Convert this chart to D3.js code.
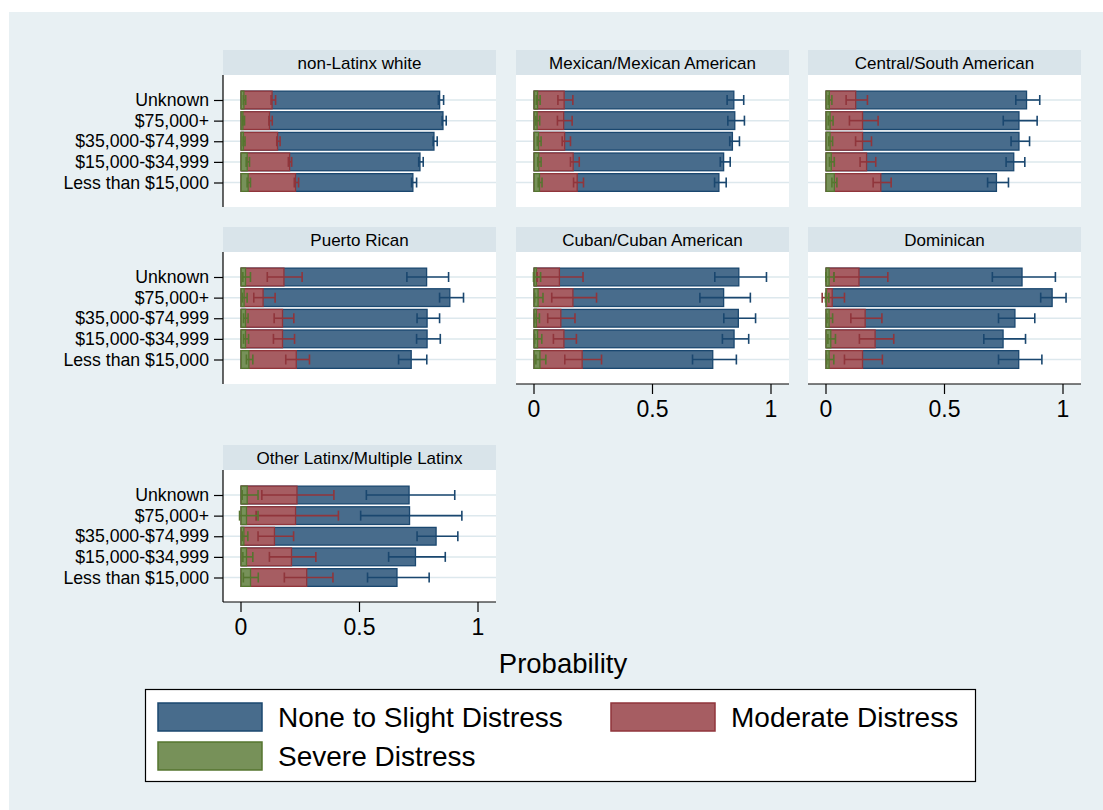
<!DOCTYPE html>
<html>
<head>
<meta charset="utf-8">
<script src="https://cdn.jsdelivr.net/npm/d3@7"></script>
<style>
  body { margin: 0; background: #fff; }
  text { font-family: "Liberation Sans", Arial, Helvetica, sans-serif; fill: #000; }
</style>
</head>
<body>
<div id="chart"></div>
<script>

// income categories, top to bottom
var categories = ["Unknown", "$75,000+", "$35,000-$74,999", "$15,000-$34,999", "Less than $15,000"];

var groups = ["non-Latinx white", "Mexican/Mexican American", "Central/South American",
              "Puerto Rican", "Cuban/Cuban American", "Dominican", "Other Latinx/Multiple Latinx"];

var seriesNames = ["None to Slight Distress", "Moderate Distress", "Severe Distress"];

// none to slight distress (one row per group)
var noneVals = [
  [0.843, 0.857, 0.819, 0.760, 0.730],
  [0.848, 0.852, 0.842, 0.805, 0.785],
  [0.851, 0.819, 0.819, 0.797, 0.724],
  [0.788, 0.886, 0.790, 0.790, 0.723],
  [0.869, 0.805, 0.867, 0.849, 0.759],
  [0.832, 0.959, 0.802, 0.752, 0.818],
  [0.714, 0.716, 0.828, 0.741, 0.663]
];
var noneLo = [
  [0.835, 0.851, 0.813, 0.752, 0.722],
  [0.817, 0.820, 0.828, 0.788, 0.764],
  [0.803, 0.750, 0.783, 0.762, 0.684],
  [0.702, 0.840, 0.745, 0.743, 0.667],
  [0.765, 0.702, 0.803, 0.797, 0.671],
  [0.704, 0.908, 0.730, 0.668, 0.730],
  [0.531, 0.507, 0.745, 0.625, 0.536]
];
var noneHi = [
  [0.857, 0.868, 0.830, 0.771, 0.743],
  [0.887, 0.890, 0.869, 0.830, 0.813],
  [0.904, 0.893, 0.861, 0.841, 0.772],
  [0.878, 0.941, 0.840, 0.843, 0.786],
  [0.983, 0.915, 0.937, 0.908, 0.856],
  [0.970, 1.015, 0.883, 0.844, 0.913],
  [0.904, 0.934, 0.917, 0.864, 0.796]
];

// moderate distress
var modVals = [
  [0.136, 0.125, 0.159, 0.210, 0.235],
  [0.132, 0.130, 0.134, 0.170, 0.187],
  [0.130, 0.159, 0.159, 0.176, 0.236],
  [0.186, 0.098, 0.180, 0.180, 0.238],
  [0.112, 0.169, 0.118, 0.131, 0.208],
  [0.144, 0.031, 0.170, 0.212, 0.159],
  [0.241, 0.235, 0.146, 0.218, 0.282]
];
var modLo = [
  [0.129, 0.120, 0.153, 0.202, 0.227],
  [0.103, 0.101, 0.121, 0.156, 0.169],
  [0.087, 0.101, 0.127, 0.146, 0.201],
  [0.113, 0.056, 0.142, 0.139, 0.191],
  [0.015, 0.077, 0.060, 0.084, 0.132],
  [0.035, -0.014, 0.107, 0.143, 0.080],
  [0.090, 0.066, 0.074, 0.122, 0.185]
];
var modHi = [
  [0.148, 0.134, 0.167, 0.216, 0.245],
  [0.166, 0.163, 0.156, 0.193, 0.211],
  [0.177, 0.222, 0.194, 0.212, 0.277],
  [0.260, 0.146, 0.225, 0.228, 0.291],
  [0.209, 0.266, 0.175, 0.181, 0.287],
  [0.263, 0.080, 0.238, 0.288, 0.240],
  [0.394, 0.413, 0.224, 0.318, 0.390]
];

// severe distress
var sevVals = [
  [0.017, 0.013, 0.015, 0.031, 0.035],
  [0.020, 0.018, 0.024, 0.025, 0.028],
  [0.019, 0.022, 0.022, 0.027, 0.040],
  [0.024, 0.018, 0.024, 0.024, 0.038],
  [0.015, 0.022, 0.015, 0.020, 0.030],
  [0.018, 0.007, 0.018, 0.025, 0.018],
  [0.031, 0.028, 0.017, 0.028, 0.045]
];
var sevLo = [
  [0.012, 0.010, 0.011, 0.024, 0.028],
  [0.012, 0.010, 0.016, 0.018, 0.020],
  [0.012, 0.012, 0.014, 0.017, 0.027],
  [0.010, 0.008, 0.013, 0.013, 0.025],
  [0.000, 0.005, 0.005, 0.005, 0.010],
  [0.002, 0.000, 0.006, 0.010, 0.005],
  [0.007, -0.004, 0.007, 0.010, 0.012]
];
var sevHi = [
  [0.022, 0.017, 0.019, 0.038, 0.042],
  [0.028, 0.026, 0.032, 0.032, 0.036],
  [0.027, 0.032, 0.030, 0.037, 0.048],
  [0.042, 0.028, 0.032, 0.034, 0.052],
  [0.030, 0.040, 0.025, 0.035, 0.052],
  [0.036, 0.014, 0.030, 0.042, 0.035],
  [0.074, 0.074, 0.031, 0.052, 0.075]
];

var xTicks = [0, 0.5, 1];

var fills = ["#486c8c", "#a65d62", "#779159"],
    strokes = ["#1a476f", "#90353b", "#55752f"];

var W = 1103, H = 810;
var colLeft = [223, 516, 808], panelW = 273,
    rowTop = [50, 227, 445], headH = 25, plotH = 132;

var svg = d3.select("#chart").append("svg")
    .attr("width", W)
    .attr("height", H);

// graph region
svg.append("rect")
    .attr("x", 9).attr("y", 12)
    .attr("width", W - 9).attr("height", H - 12)
    .attr("fill", "#e8f0f3");

var series = [
  {vals: noneVals, lo: noneLo, hi: noneHi},
  {vals: modVals, lo: modLo, hi: modHi},
  {vals: sevVals, lo: sevLo, hi: sevHi}
];

groups.forEach(function(name, gi) {
  var row = Math.floor(gi / 3), col = gi % 3;
  var left = colLeft[col], top = rowTop[row], plotTop = top + headH;

  var x = d3.scaleLinear().domain([0, 1]).range([left + 17.5, left + 254.5]);
  var y = d3.scalePoint().domain(categories).range([plotTop + 25, plotTop + 107.5]);

  var g = svg.append("g").attr("class", "panel");

  // header strip
  g.append("rect")
      .attr("x", left).attr("y", top)
      .attr("width", panelW).attr("height", headH)
      .attr("fill", "#d9e4ea");
  g.append("text")
      .attr("x", left + panelW / 2)
      .attr("y", top + 18.5)
      .attr("text-anchor", "middle")
      .attr("font-size", "17px")
      .text(name);

  // plot region
  g.append("rect")
      .attr("x", left).attr("y", plotTop)
      .attr("width", panelW).attr("height", plotH)
      .attr("fill", "#fff");

  g.selectAll(".grid")
    .data(categories)
    .enter().append("line")
      .attr("class", "grid")
      .attr("x1", left).attr("x2", left + panelW)
      .attr("y1", function(d) { return y(d); })
      .attr("y2", function(d) { return y(d); })
      .attr("stroke", "#dde8ed")
      .attr("stroke-width", 1.5);

  var barH = 19, sw = 1.3;

  // overlaid bars, each from 0
  series.forEach(function(s, si) {
    g.selectAll(".bar" + si)
      .data(categories)
      .enter().append("rect")
        .attr("class", "bar" + si)
        .attr("x", x(0) + sw / 2)
        .attr("y", function(d) { return y(d) - barH / 2 + sw / 2; })
        .attr("width", function(d, i) { return Math.max(0, x(s.vals[gi][i]) - x(0) - sw); })
        .attr("height", barH - sw)
        .attr("fill", fills[si])
        .attr("stroke", strokes[si])
        .attr("stroke-width", sw);
  });

  // confidence intervals
  series.forEach(function(s, si) {
    var ci = g.selectAll(".ci" + si)
      .data(categories)
      .enter().append("g")
        .attr("class", "ci" + si)
        .attr("stroke", strokes[si])
        .attr("stroke-width", 1.6);
    ci.append("line")
        .attr("x1", function(d, i) { return x(s.lo[gi][i]); })
        .attr("x2", function(d, i) { return x(s.hi[gi][i]); })
        .attr("y1", function(d) { return y(d); })
        .attr("y2", function(d) { return y(d); });
    ci.append("line")
        .attr("x1", function(d, i) { return x(s.lo[gi][i]); })
        .attr("x2", function(d, i) { return x(s.lo[gi][i]); })
        .attr("y1", function(d) { return y(d) - 5; })
        .attr("y2", function(d) { return y(d) + 5; });
    ci.append("line")
        .attr("x1", function(d, i) { return x(s.hi[gi][i]); })
        .attr("x2", function(d, i) { return x(s.hi[gi][i]); })
        .attr("y1", function(d) { return y(d) - 5; })
        .attr("y2", function(d) { return y(d) + 5; });
  });

  // y axis on the first column
  if (col === 0) {
    var ya = g.append("g")
        .attr("class", "y-axis")
        .attr("transform", "translate(" + left + ",0)")
        .call(d3.axisLeft(y).tickSize(9).tickPadding(5));
    ya.select(".domain").remove();
    ya.selectAll(".tick line").attr("stroke", "#000").attr("stroke-width", 1.2);
    ya.selectAll("text")
        .attr("font-size", "17.7px")
        .attr("font-family", "Liberation Sans, Arial, sans-serif")
        .attr("fill", "#000");
    g.append("line")
        .attr("x1", left).attr("x2", left)
        .attr("y1", plotTop).attr("y2", plotTop + plotH)
        .attr("stroke", "#000").attr("stroke-width", 1.2);
  }

  // x axis on the bottom panel of each column
  if (gi >= 4) {
    var xa = g.append("g")
        .attr("class", "x-axis")
        .attr("transform", "translate(0," + (plotTop + plotH) + ")")
        .call(d3.axisBottom(x).tickValues(xTicks)
          .tickFormat(function(d) { return d === 0.5 ? "0.5" : String(d); })
          .tickSize(10).tickPadding(7));
    xa.select(".domain").remove();
    xa.selectAll(".tick line").attr("stroke", "#000").attr("stroke-width", 1.2);
    xa.selectAll("text")
        .attr("font-size", "23px")
        .attr("font-family", "Liberation Sans, Arial, sans-serif")
        .attr("fill", "#000");
    g.append("line")
        .attr("x1", left).attr("x2", left + panelW)
        .attr("y1", plotTop + plotH).attr("y2", plotTop + plotH)
        .attr("stroke", "#000").attr("stroke-width", 1.2);
  }
});

// axis title
svg.append("text")
    .attr("x", 563)
    .attr("y", 673)
    .attr("text-anchor", "middle")
    .attr("font-size", "27.5px")
    .text("Probability");

// legend
var legend = svg.append("g").attr("class", "legend");
legend.append("rect")
    .attr("x", 145.5).attr("y", 689.5)
    .attr("width", 830).attr("height", 92)
    .attr("fill", "#fff")
    .attr("stroke", "#000")
    .attr("stroke-width", 1.2);

var keyPos = [[157, 702], [610, 702], [157, 741]];
seriesNames.forEach(function(nm, i) {
  legend.append("rect")
      .attr("x", keyPos[i][0] + 1).attr("y", keyPos[i][1] + 1)
      .attr("width", 104).attr("height", 28)
      .attr("fill", fills[i])
      .attr("stroke", strokes[i])
      .attr("stroke-width", 1.5);
  legend.append("text")
      .attr("x", keyPos[i][0] + 121)
      .attr("y", keyPos[i][1] + 25)
      .attr("font-size", "28px")
      .text(nm);
});

</script>
</body>
</html>
